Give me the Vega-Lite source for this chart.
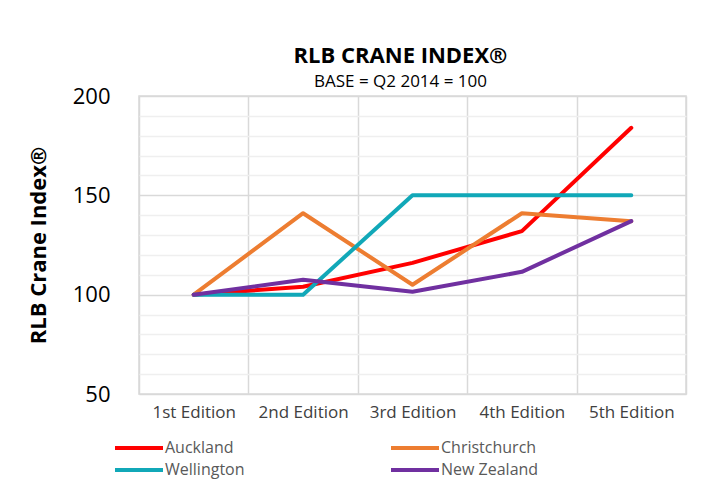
{
  "$schema": "https://vega.github.io/schema/vega-lite/v6.json",
  "width": 547,
  "height": 298,
  "autosize": {"type": "none"},
  "padding": {"left": 139, "top": 96, "right": 38, "bottom": 107},
  "background": "white",
  "config": {
    "font": "Open Sans",
    "view": {"stroke": "#d9d9d9", "strokeWidth": 1.5}
  },
  "title": {
    "text": "RLB CRANE INDEX®",
    "subtitle": "BASE = Q2 2014 = 100",
    "anchor": "middle",
    "frame": "group",
    "dx": -12,
    "offset": -6,
    "font": "Open Sans",
    "fontSize": 22,
    "fontWeight": "bold",
    "color": "#000000",
    "subtitleFont": "Open Sans",
    "subtitleFontSize": 17,
    "subtitleColor": "#000000",
    "subtitlePadding": 6
  },
  "data": {
    "values": [
      {"edition": "1st Edition", "city": "Auckland", "value": 100},
      {"edition": "2nd Edition", "city": "Auckland", "value": 104},
      {"edition": "3rd Edition", "city": "Auckland", "value": 116},
      {"edition": "4th Edition", "city": "Auckland", "value": 132},
      {"edition": "5th Edition", "city": "Auckland", "value": 184},
      {"edition": "1st Edition", "city": "Christchurch", "value": 100},
      {"edition": "2nd Edition", "city": "Christchurch", "value": 141},
      {"edition": "3rd Edition", "city": "Christchurch", "value": 105},
      {"edition": "4th Edition", "city": "Christchurch", "value": 141},
      {"edition": "5th Edition", "city": "Christchurch", "value": 137},
      {"edition": "1st Edition", "city": "Wellington", "value": 100},
      {"edition": "2nd Edition", "city": "Wellington", "value": 100},
      {"edition": "3rd Edition", "city": "Wellington", "value": 150},
      {"edition": "4th Edition", "city": "Wellington", "value": 150},
      {"edition": "5th Edition", "city": "Wellington", "value": 150},
      {"edition": "1st Edition", "city": "New Zealand", "value": 100},
      {"edition": "2nd Edition", "city": "New Zealand", "value": 107.5},
      {"edition": "3rd Edition", "city": "New Zealand", "value": 101.5},
      {"edition": "4th Edition", "city": "New Zealand", "value": 111.5},
      {"edition": "5th Edition", "city": "New Zealand", "value": 137}
    ]
  },
  "encoding": {
    "x": {
      "field": "edition",
      "type": "ordinal",
      "sort": ["1st Edition", "2nd Edition", "3rd Edition", "4th Edition", "5th Edition"],
      "scale": {"paddingInner": 0, "paddingOuter": 0},
      "axis": {
        "title": null,
        "labelAngle": 0,
        "labelFontSize": 17,
        "labelColor": "#404040",
        "labelPadding": 10,
        "ticks": false,
        "domain": false,
        "grid": true,
        "tickBand": "extent",
        "gridColor": "#d9d9d9",
        "gridWidth": 1.5
      }
    }
  },
  "layer": [
    {
      "mark": {"type": "line", "opacity": 0},
      "encoding": {
        "y": {
          "field": "value",
          "type": "quantitative",
          "scale": {"domain": [50, 200], "nice": false, "zero": false},
          "axis": {
            "orient": "left",
            "values": [60, 70, 80, 90, 110, 120, 130, 140, 160, 170, 180, 190],
            "grid": true,
            "gridColor": "#efefef",
            "gridWidth": 1.5,
            "labels": false,
            "ticks": false,
            "domain": false,
            "title": null
          }
        }
      }
    },
    {
      "mark": {"type": "line", "strokeWidth": 4, "strokeCap": "round", "strokeJoin": "round"},
      "encoding": {
        "y": {
          "field": "value",
          "type": "quantitative",
          "scale": {"domain": [50, 200], "nice": false, "zero": false},
          "axis": {
            "orient": "left",
            "values": [50, 100, 150, 200],
            "grid": true,
            "gridColor": "#d9d9d9",
            "gridWidth": 1.5,
            "ticks": false,
            "domain": false,
            "labelFontSize": 22,
            "labelColor": "#000000",
            "labelPadding": 29,
            "title": "RLB Crane Index®",
            "titleFontSize": 22,
            "titleFontWeight": "bold",
            "titleColor": "#000000",
            "titlePadding": 22
          }
        },
        "color": {
          "field": "city",
          "type": "nominal",
          "scale": {
            "domain": ["Auckland", "Christchurch", "Wellington", "New Zealand"],
            "range": ["#ff0000", "#ed7d31", "#11a8b8", "#7030a0"]
          },
          "legend": {
            "title": null,
            "orient": "none",
            "legendX": -10,
            "legendY": 342,
            "columns": 2,
            "direction": "horizontal",
            "symbolType": "M-3,0H3",
            "symbolSize": 256,
            "symbolStrokeWidth": 4,
            "labelFontSize": 16,
            "labelColor": "#595959",
            "labelOffset": 16,
            "rowPadding": 4,
            "columnPadding": 138
          }
        }
      }
    }
  ],
  "resolve": {"axis": {"y": "independent"}}
}
